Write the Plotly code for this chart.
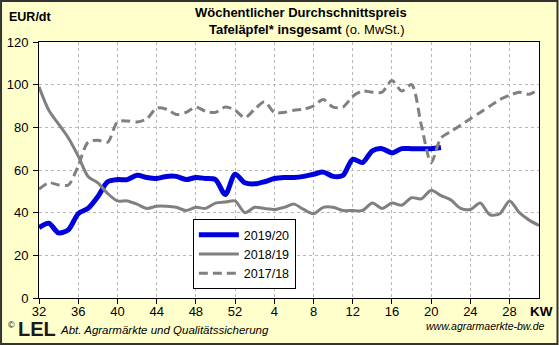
import plotly.graph_objects as go

# Kalenderwochen von KW 32 bis KW 31 des Folgejahres
kw_labels = [str(w) for w in list(range(32, 53)) + list(range(1, 32))]
tick_labels = ["32", "36", "40", "44", "48", "52", "4", "8", "12", "16", "20", "24", "28"]

# Wöchentliche Durchschnittspreise in EUR/dt
preis_2019_20 = [33, 35, 30.5, 32, 39.5, 42, 47.5, 54.5, 55.5, 55.5, 57.5, 56.5, 56, 57,
                 57, 55.5, 56.5, 56, 55.5, 48.5, 58, 54, 53.5, 54.5, 56, 56.5, 56.5, 57,
                 58, 59, 57, 57.5, 65, 63.5, 69, 70, 68, 70, 70, 70, 70, 70.5]
preis_2018_19 = [99, 88, 81.5, 75, 66.5, 57, 54, 49, 45.5, 45.5, 44, 42, 43, 43,
                 42.5, 41, 42.5, 42, 44.5, 45, 45.5, 40, 42.5, 42, 41.5, 42.5, 44, 41.5,
                 39.5, 42.5, 42.5, 41, 41, 41, 44.5, 42, 44.5, 43.5, 47, 46.5, 50.5, 48,
                 46, 42, 41.5, 44.5, 39, 39.5, 45.5, 40, 36.5, 34]
preis_2017_18 = [51, 54, 53, 53, 62, 73, 74, 73, 82.5, 83, 82.5, 84, 89, 88.5,
                 86, 87, 89.5, 87.5, 87, 89.5, 88, 84.5, 88.5, 92, 87, 87, 88, 88.5,
                 90, 93, 89.5, 89.5, 94.5, 97, 96.5, 96.5, 102, 97, 100, 81, 63.5, 75,
                 78, 81, 84, 87, 90, 93, 95, 96.5, 95.5, 98]

W, H = 559, 345
L, R, T, B = 39, 539.5, 42, 298


def px(x):
    return (x - L) / (R - L)


def py(y):
    return (B - y) / (B - T)


font = "Arial, Liberation Sans, sans-serif"

fig = go.Figure()
idx = list(range(len(kw_labels)))

fig.add_trace(go.Scatter(
    x=idx[:len(preis_2019_20)], y=preis_2019_20, name="2019/20", mode="lines",
    line=dict(color="#0000DD", width=5, shape="spline", smoothing=0.8)))
fig.add_trace(go.Scatter(
    x=idx, y=preis_2018_19, name="2018/19", mode="lines",
    line=dict(color="#808080", width=3, shape="spline", smoothing=0.8)))
fig.add_trace(go.Scatter(
    x=idx, y=preis_2017_18, name="2017/18", mode="lines",
    line=dict(color="#808080", width=3, dash="9px,5px", shape="spline", smoothing=0.8)))

grid = dict(showgrid=True, gridcolor="#B8B8B8", gridwidth=1, griddash="dot",
            showline=True, linecolor="black", linewidth=1, mirror=True,
            ticks="outside", ticklen=5, tickcolor="black", zeroline=False,
            automargin=False,
            tickfont=dict(family=font, size=13, color="black"))

fig.update_xaxes(range=[0, 51], tickvals=idx[::4], ticktext=tick_labels,
                 ticklabelstandoff=-4, **grid)
fig.update_yaxes(range=[0, 120], dtick=20, ticklabelstandoff=2, **grid)

annotations = [
    dict(text="<b>Wöchentlicher Durchschnittspreis</b>", x=px(301), y=py(12),
         font=dict(size=13)),
    dict(text="<b>Tafeläpfel* insgesamt</b> (o. MwSt.)", x=px(307), y=py(29),
         font=dict(size=13)),
    dict(text="<b>EUR/dt</b>", x=px(7), y=py(17), xanchor="left", font=dict(size=12.5)),
    dict(text="<b>KW</b>", x=px(528), y=py(311), xanchor="left", font=dict(size=13.5)),
    dict(text="©", x=px(6), y=py(325), xanchor="left", font=dict(size=9)),
    dict(text="<b>LEL</b>", x=px(16), y=py(329), xanchor="left",
         font=dict(size=20, color="#1a1a1a")),
    dict(text="<i>Abt. Agrarmärkte und Qualitätssicherung</i>", x=px(58), y=py(330),
         xanchor="left", font=dict(size=11.5)),
    dict(text="<i>www.agrarmaerkte-bw.de</i>", x=px(548), y=py(326),
         xanchor="right", font=dict(size=10.5)),
]
for a in annotations:
    a.update(xref="paper", yref="paper", showarrow=False, yanchor="middle")
    a.setdefault("xanchor", "center")
    a["font"].setdefault("color", "black")
    a["font"]["family"] = font

fig.update_layout(
    width=W, height=H, autosize=False,
    margin=dict(l=L, r=W - R, t=T, b=H - B, pad=0),
    paper_bgcolor="#FFFFCC", plot_bgcolor="white",
    font=dict(family=font, size=12, color="black"),
    showlegend=True,
    legend=dict(x=px(193), y=py(219), xanchor="left", yanchor="top",
                bgcolor="white", bordercolor="black", borderwidth=1,
                font=dict(family=font, size=12.5, color="black"),
                itemwidth=40, tracegroupgap=0),
    annotations=annotations,
    shapes=[dict(type="rect", xref="paper", yref="paper",
                 x0=px(1), x1=px(W - 1), y0=py(1), y1=py(H - 1),
                 line=dict(color="#333333", width=2), layer="above")],
)

fig.write_html("out.html")
